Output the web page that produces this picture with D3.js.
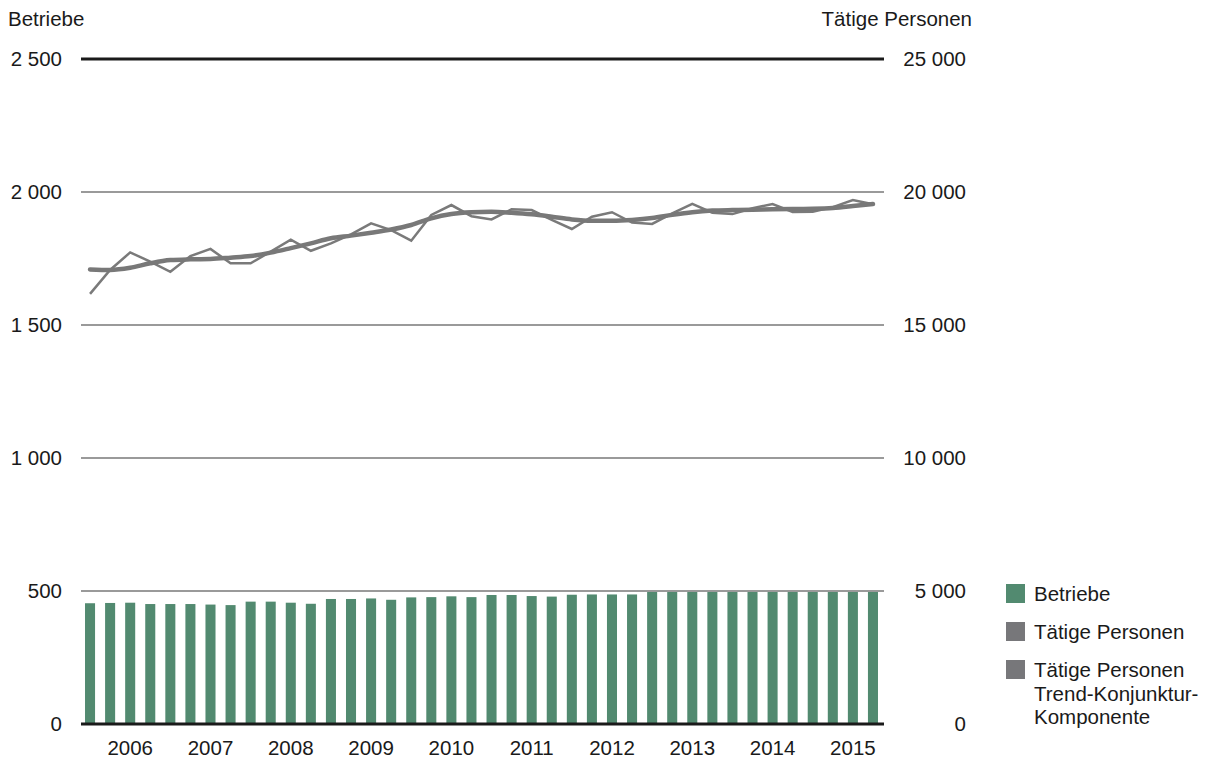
<!DOCTYPE html>
<html>
<head>
<meta charset="utf-8">
<script src="https://cdn.jsdelivr.net/npm/d3@7"></script>
<style>
  body { margin: 0; background: #fff; }
  text { font-family: "Liberation Sans", Arial, sans-serif; fill: #1a1a1a; }
</style>
</head>
<body>
<div id="chart"></div>
<script>
var years = ["2006", "2007", "2008", "2009", "2010", "2011", "2012", "2013", "2014", "2015"]
var quarters = []
years.forEach(y => { for (let q = 1; q <= 4; q++) quarters.push(y + "Q" + q) })

var betriebe = [454, 455, 456, 451, 451, 451, 449, 447, 460, 460, 456, 452, 470, 470, 472, 467,
    476, 477, 480, 477, 485, 485, 481, 479, 486, 487, 487, 487, 500, 501, 502, 501,
    502, 502, 503, 502, 501, 502, 502, 503]
var personen = [16170, 17070, 17730, 17380, 17000, 17590, 17860, 17320, 17320, 17760, 18210, 17790,
    18070, 18410, 18820, 18570, 18170, 19140, 19510, 19090, 18970, 19350, 19320, 18950,
    18610, 19070, 19240, 18850, 18800, 19200, 19550, 19220, 19170, 19390, 19550, 19250,
    19260, 19430, 19700, 19540]
var trend = [17090, 17070, 17150, 17320, 17440, 17470, 17480, 17530, 17590, 17720, 17890, 18070,
    18260, 18360, 18470, 18590, 18760, 19010, 19170, 19240, 19260, 19220, 19160, 19070,
    18970, 18920, 18920, 18950, 19020, 19140, 19240, 19300, 19320, 19330, 19350, 19360,
    19370, 19400, 19470, 19550]
var leftTicks = [0, 500, 1000, 1500, 2000, 2500]
var rightTicks = [0, 5000, 10000, 15000, 20000, 25000]
var legendItems = [
    { label: ["Betriebe"], color: "#528a70" },
    { label: ["Tätige Personen"], color: "#77777a" },
    { label: ["Tätige Personen", "Trend-Konjunktur-", "Komponente"], color: "#77777a" }
]

var W = 1212, H = 763
var margin = { top: 59, right: 329, bottom: 39, left: 80 },
    width = W - margin.left - margin.right,
    height = H - margin.top - margin.bottom

var fmt = v => d3.format(",")(v).replace(/,/g, " ")

var svg = d3.select("#chart")
    .append("svg")
    .attr("width", W)
    .attr("height", H)

var g = svg.append("g")
    .attr("transform", "translate(" + margin.left + "," + margin.top + ")")

var x = d3.scaleBand().domain(quarters).range([0, width]).paddingInner(0.5).paddingOuter(0.25)
var yL = d3.scaleLinear().domain([0, 2500]).range([height, 0])
var yR = d3.scaleLinear().domain([0, 25000]).range([height, 0])

// bars
g.selectAll(".bar")
    .data(betriebe)
    .enter()
    .append("rect")
    .attr("x", (d, i) => x(quarters[i]))
    .attr("y", d => yL(d))
    .attr("width", x.bandwidth())
    .attr("height", d => yL(0) - yL(d))
    .attr("fill", "#528a70")

// grid lines
g.selectAll(".grid")
    .data(leftTicks)
    .enter()
    .append("line")
    .attr("x1", 1).attr("x2", width + 1)
    .attr("y1", d => yL(d)).attr("y2", d => yL(d))
    .attr("stroke", d => (d === 0 || d === 2500) ? "#1a1a1a" : "#9a9a9a")
    .attr("stroke-width", d => (d === 0 || d === 2500) ? 3 : 2)

// left tick labels
g.selectAll(".ltick")
    .data(leftTicks)
    .enter()
    .append("text")
    .attr("x", -18)
    .attr("y", d => yL(d) + 7)
    .attr("text-anchor", "end")
    .style("font-size", "20.5px")
    .text(d => fmt(d))

// right tick labels
g.selectAll(".rtick")
    .data(rightTicks)
    .enter()
    .append("text")
    .attr("x", width + 83)
    .attr("y", d => yR(d) + 7)
    .attr("text-anchor", "end")
    .style("font-size", "20.5px")
    .text(d => fmt(d))

// year labels
g.selectAll(".year")
    .data(years)
    .enter()
    .append("text")
    .attr("x", (d, i) => x(quarters[i * 4 + 2]) + x.bandwidth() / 2)
    .attr("y", height + 31)
    .attr("text-anchor", "middle")
    .style("font-size", "20.5px")
    .text(d => d)

// lines
var line = d3.line()
    .x((d, i) => x(quarters[i]) + x.bandwidth() / 2)
    .y(d => yR(d))

g.append("path")
    .datum(personen)
    .attr("d", line)
    .attr("fill", "none")
    .attr("stroke", "#7a7a7a")
    .attr("stroke-width", 2.5)
    .attr("stroke-linejoin", "miter")

g.append("path")
    .datum(trend)
    .attr("d", line.curve(d3.curveMonotoneX))
    .attr("fill", "none")
    .attr("stroke", "#787878")
    .attr("stroke-width", 4.5)
    .attr("stroke-linecap", "round")

// axis titles
svg.append("text")
    .attr("x", 8).attr("y", 26)
    .style("font-size", "20.5px")
    .text("Betriebe")
svg.append("text")
    .attr("x", 972).attr("y", 26)
    .attr("text-anchor", "end")
    .style("font-size", "20.5px")
    .text("Tätige Personen")

// legend
var legendY = [584, 622, 660]
var leg = svg.selectAll(".leg")
    .data(legendItems)
    .enter()
    .append("g")
    .attr("transform", (d, i) => "translate(1006," + legendY[i] + ")")

leg.append("rect")
    .attr("width", 19).attr("height", 19)
    .attr("fill", d => d.color)

leg.append("text")
    .attr("x", 28)
    .style("font-size", "20.5px")
    .selectAll("tspan")
    .data(d => d.label)
    .enter()
    .append("tspan")
    .attr("x", 28)
    .attr("y", (d, i) => 17 + i * 23.5)
    .text(d => d)
</script>
</body>
</html>
